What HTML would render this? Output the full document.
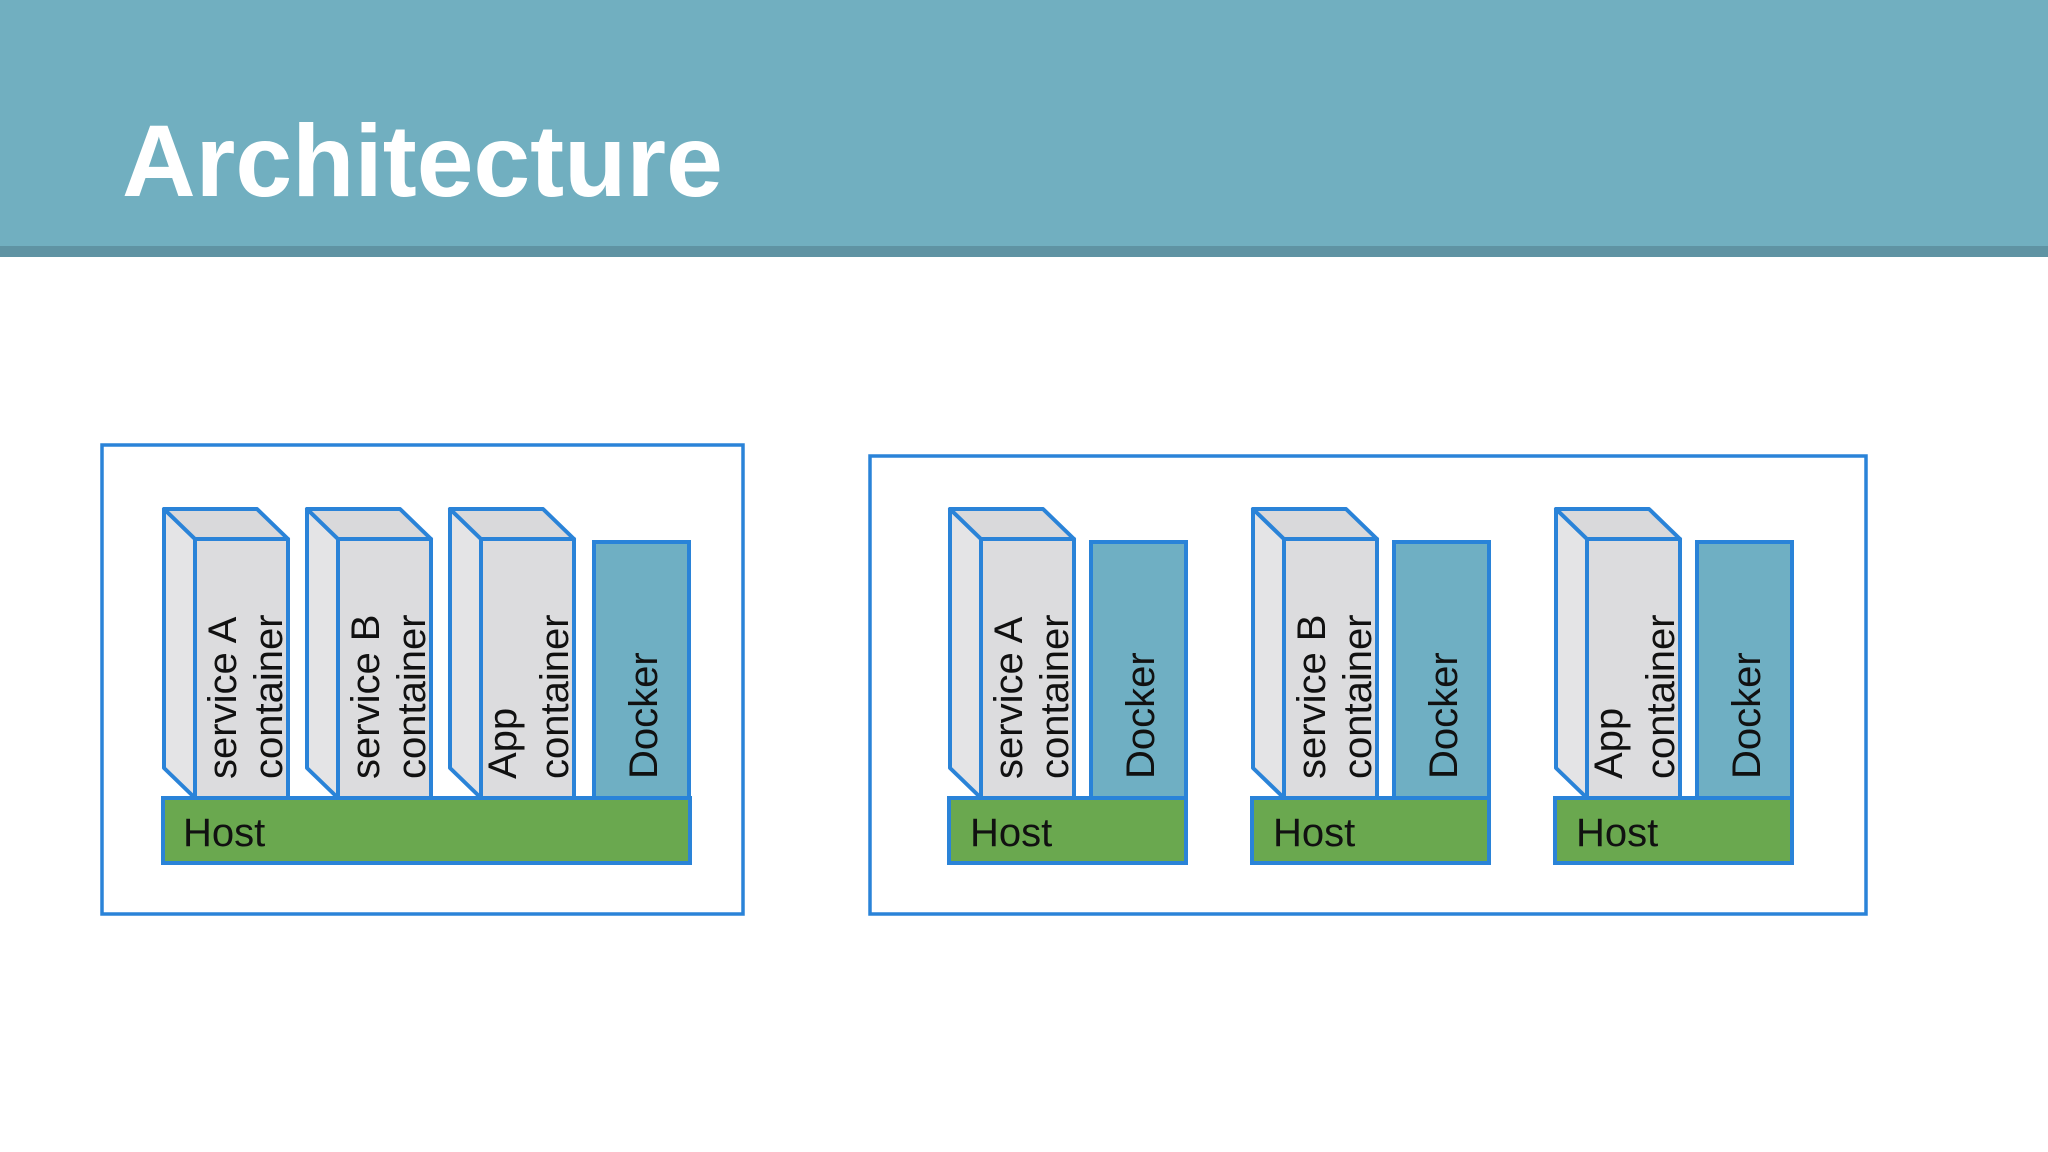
<!DOCTYPE html>
<html><head><meta charset="utf-8"><style>
html,body{margin:0;padding:0;background:#fff;}
svg{display:block;}
text{font-family:"Liberation Sans",Arial,sans-serif;}
</style></head><body>
<svg width="2048" height="1152" viewBox="0 0 2048 1152" xmlns="http://www.w3.org/2000/svg">
<rect x="0" y="0" width="2048" height="246" fill="#71afc0"/>
<rect x="0" y="246" width="2048" height="11" fill="#5f93a3"/>
<text x="122" y="196" font-size="102" font-weight="bold" fill="#fff">Architecture</text>

<g fill="none" stroke="#2a83d8" stroke-width="3.5">
<rect x="102" y="445" width="641" height="469" fill="#fff"/>
<rect x="870" y="456" width="996" height="458" fill="#fff"/>
</g>

<defs>
<g id="cont" stroke="#2a83d8" stroke-width="4" stroke-linejoin="round">
<polygon points="-31,509 0,539 0,798 -31,768" fill="#e4e4e6"/>
<polygon points="-31,509 62,509 93,539 0,539" fill="#d9d9db"/>
<rect x="0" y="539" width="93" height="259" fill="#dcdcde"/>
</g>
<g id="dock" stroke="#2a83d8" stroke-width="4">
<rect x="0" y="542" width="95" height="256" fill="#6fafc3"/>
</g>
</defs>

<!-- Left group -->
<rect x="163" y="798" width="527" height="65" fill="#6aa84f" stroke="#2a83d8" stroke-width="4"/>
<text x="183" y="846" font-size="40" fill="#111">Host</text>

<g transform="translate(195,0)"><use href="#cont"/>
<text transform="translate(41,779) rotate(-90)" font-size="40" fill="#111">service A</text>
<text transform="translate(87,779) rotate(-90)" font-size="40" fill="#111">container</text></g>
<g transform="translate(338,0)"><use href="#cont"/>
<text transform="translate(41,779) rotate(-90)" font-size="40" fill="#111">service B</text>
<text transform="translate(87,779) rotate(-90)" font-size="40" fill="#111">container</text></g>
<g transform="translate(481,0)"><use href="#cont"/>
<text transform="translate(35,779) rotate(-90)" font-size="40" fill="#111">App</text>
<text transform="translate(87,779) rotate(-90)" font-size="40" fill="#111">container</text></g>
<g transform="translate(594,0)"><use href="#dock"/>
<text transform="translate(63,779) rotate(-90)" font-size="40" fill="#111">Docker</text></g>

<!-- Right groups -->
<g transform="translate(0,0)">
<rect x="949" y="798" width="237" height="65" fill="#6aa84f" stroke="#2a83d8" stroke-width="4"/>
<text x="970" y="846" font-size="40" fill="#111">Host</text>
<g transform="translate(981,0)"><use href="#cont"/>
<text transform="translate(41,779) rotate(-90)" font-size="40" fill="#111">service A</text>
<text transform="translate(87,779) rotate(-90)" font-size="40" fill="#111">container</text></g>
<g transform="translate(1091,0)"><use href="#dock"/>
<text transform="translate(63,779) rotate(-90)" font-size="40" fill="#111">Docker</text></g>
</g>
<g transform="translate(303,0)">
<rect x="949" y="798" width="237" height="65" fill="#6aa84f" stroke="#2a83d8" stroke-width="4"/>
<text x="970" y="846" font-size="40" fill="#111">Host</text>
<g transform="translate(981,0)"><use href="#cont"/>
<text transform="translate(41,779) rotate(-90)" font-size="40" fill="#111">service B</text>
<text transform="translate(87,779) rotate(-90)" font-size="40" fill="#111">container</text></g>
<g transform="translate(1091,0)"><use href="#dock"/>
<text transform="translate(63,779) rotate(-90)" font-size="40" fill="#111">Docker</text></g>
</g>
<g transform="translate(606,0)">
<rect x="949" y="798" width="237" height="65" fill="#6aa84f" stroke="#2a83d8" stroke-width="4"/>
<text x="970" y="846" font-size="40" fill="#111">Host</text>
<g transform="translate(981,0)"><use href="#cont"/>
<text transform="translate(35,779) rotate(-90)" font-size="40" fill="#111">App</text>
<text transform="translate(87,779) rotate(-90)" font-size="40" fill="#111">container</text></g>
<g transform="translate(1091,0)"><use href="#dock"/>
<text transform="translate(63,779) rotate(-90)" font-size="40" fill="#111">Docker</text></g>
</g>
</svg>
</body></html>
